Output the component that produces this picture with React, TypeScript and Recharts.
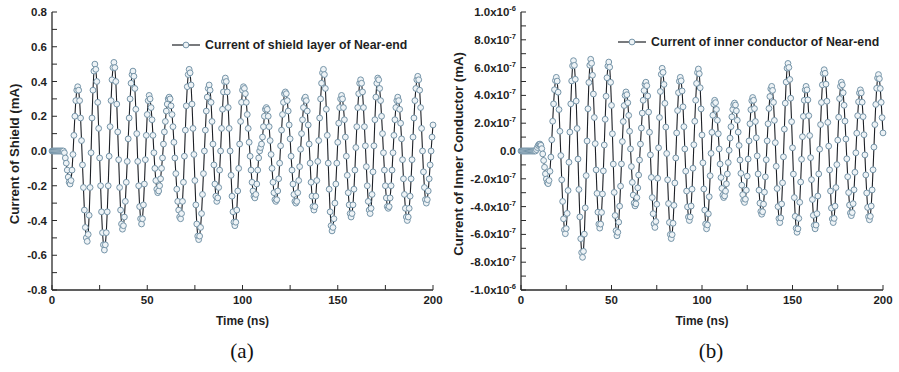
import { LineChart, Line, XAxis, YAxis, Legend } from 'recharts'

// samples are 0.5 ns apart, t = index * STEP_NS
const STEP_NS = 0.5

const X_TICKS = [0, 25, 50, 75, 100, 125, 150, 175, 200]
const SHIELD_TICKS = [-0.8, -0.7, -0.6, -0.5, -0.4, -0.3, -0.2, -0.1, 0, 0.1, 0.2, 0.3, 0.4, 0.5, 0.6, 0.7, 0.8]
// inner conductor axis in units of 1e-7 mA
const INNER_TICKS = [-10, -9, -8, -7, -6, -5, -4, -3, -2, -1, 0, 1, 2, 3, 4, 5, 6, 7, 8, 9, 10]

// (a) current of shield layer, mA
const SHIELD_MA = [
  0, 0, 0, 0, 0, 0, 0, 0, 0, 0, // 0
  0, 0, 0, -0.01, -0.04, -0.07, -0.11, -0.15, -0.18, -0.19, // 5
  -0.17, -0.11, -0.02, 0.09, 0.2, 0.29, 0.35, 0.37, 0.35, 0.29, // 10
  0.19, 0.06, -0.08, -0.21, -0.34, -0.44, -0.5, -0.52, -0.48, -0.37, // 15
  -0.21, -0.01, 0.19, 0.35, 0.46, 0.5, 0.47, 0.4, 0.28, 0.13, // 20
  -0.04, -0.2, -0.35, -0.47, -0.54, -0.57, -0.54, -0.47, -0.35, -0.2, // 25
  -0.03, 0.14, 0.29, 0.41, 0.48, 0.51, 0.48, 0.4, 0.27, 0.11, // 30
  -0.05, -0.21, -0.34, -0.42, -0.45, -0.43, -0.38, -0.29, -0.18, -0.06, // 35
  0.07, 0.19, 0.3, 0.39, 0.44, 0.46, 0.43, 0.36, 0.24, 0.1, // 40
  -0.06, -0.2, -0.32, -0.39, -0.42, -0.39, -0.31, -0.19, -0.05, 0.09, // 45
  0.21, 0.29, 0.32, 0.3, 0.25, 0.18, 0.09, -0.01, -0.1, -0.17, // 50
  -0.22, -0.24, -0.23, -0.2, -0.16, -0.1, -0.04, 0.04, 0.11, 0.17, // 55
  0.23, 0.27, 0.3, 0.31, 0.3, 0.26, 0.21, 0.14, 0.05, -0.04, // 60
  -0.13, -0.22, -0.29, -0.34, -0.38, -0.39, -0.36, -0.29, -0.18, -0.03, // 65
  0.12, 0.26, 0.37, 0.44, 0.47, 0.45, 0.38, 0.27, 0.13, -0.02, // 70
  -0.17, -0.31, -0.42, -0.49, -0.51, -0.49, -0.44, -0.36, -0.25, -0.13, // 75
  0, 0.12, 0.23, 0.31, 0.36, 0.38, 0.35, 0.28, 0.17, 0.04, // 80
  -0.08, -0.19, -0.26, -0.29, -0.27, -0.21, -0.11, 0, 0.13, 0.24, // 85
  0.34, 0.4, 0.42, 0.4, 0.34, 0.25, 0.13, 0, -0.14, -0.26, // 90
  -0.35, -0.41, -0.43, -0.41, -0.34, -0.23, -0.1, 0.04, 0.17, 0.28, // 95
  0.35, 0.37, 0.36, 0.33, 0.28, 0.21, 0.13, 0.05, -0.03, -0.11, // 100
  -0.18, -0.23, -0.26, -0.27, -0.25, -0.19, -0.11, -0.04, 0, 0.02, // 105
  0.04, 0.08, 0.14, 0.2, 0.24, 0.25, 0.24, 0.2, 0.14, 0.06, // 110
  -0.02, -0.1, -0.18, -0.24, -0.28, -0.29, -0.28, -0.23, -0.16, -0.07, // 115
  0.03, 0.12, 0.21, 0.28, 0.33, 0.34, 0.33, 0.29, 0.23, 0.15, // 120
  0.07, -0.03, -0.11, -0.19, -0.25, -0.29, -0.3, -0.29, -0.24, -0.17, // 125
  -0.09, 0.01, 0.1, 0.18, 0.25, 0.3, 0.31, 0.29, 0.23, 0.15, // 130
  0.04, -0.07, -0.18, -0.26, -0.32, -0.34, -0.32, -0.26, -0.17, -0.06, // 135
  0.06, 0.19, 0.3, 0.39, 0.45, 0.47, 0.44, 0.36, 0.24, 0.09, // 140
  -0.07, -0.22, -0.35, -0.43, -0.46, -0.44, -0.39, -0.3, -0.19, -0.07, // 145
  0.05, 0.16, 0.25, 0.3, 0.32, 0.3, 0.25, 0.18, 0.08, -0.03, // 150
  -0.14, -0.24, -0.31, -0.36, -0.38, -0.36, -0.31, -0.22, -0.11, 0.02, // 155
  0.14, 0.25, 0.33, 0.39, 0.41, 0.39, 0.34, 0.25, 0.14, 0.03, // 160
  -0.09, -0.2, -0.29, -0.34, -0.36, -0.33, -0.25, -0.12, 0.03, 0.18, // 165
  0.31, 0.39, 0.42, 0.41, 0.36, 0.29, 0.2, 0.1, -0.01, -0.11, // 170
  -0.2, -0.27, -0.32, -0.33, -0.32, -0.27, -0.2, -0.11, -0.01, 0.09, // 175
  0.18, 0.25, 0.29, 0.31, 0.29, 0.24, 0.16, 0.07, -0.05, -0.16, // 180
  -0.25, -0.33, -0.38, -0.4, -0.38, -0.33, -0.26, -0.16, -0.05, 0.08, // 185
  0.19, 0.29, 0.36, 0.41, 0.43, 0.41, 0.35, 0.25, 0.13, 0, // 190
  -0.12, -0.21, -0.28, -0.3, -0.28, -0.23, -0.16, -0.08, 0, 0.08, // 195
  0.15, // 200
]

// (b) current of inner conductor, units of 1e-7 mA
const INNER_E7 = [
  0, 0, 0, 0, 0, 0, 0, 0, 0, 0, // 0
  0, 0, 0, 0, 0, 0, 0, 0.1, 0.25, 0.4, // 5
  0.48, 0.5, 0.41, 0.17, -0.21, -0.68, -1.17, -1.64, -2.02, -2.27, // 10
  -2.35, -2.12, -1.46, -0.44, 0.81, 2.14, 3.39, 4.41, 5.07, 5.3, // 15
  5.03, 4.23, 2.98, 1.42, -0.33, -2.07, -3.63, -4.88, -5.68, -5.95, // 20
  -5.58, -4.49, -2.84, -0.81, 1.36, 3.39, 5.04, 6.13, 6.5, 6.16, // 25
  5.16, 3.59, 1.62, -0.58, -2.77, -4.74, -6.31, -7.31, -7.65, -7.22, // 30
  -5.98, -4.09, -1.77, 0.72, 3.04, 4.93, 6.17, 6.6, 6.31, 5.45, // 35
  4.1, 2.41, 0.53, -1.36, -3.05, -4.4, -5.26, -5.55, -5.26, -4.42, // 40
  -3.09, -1.43, 0.43, 2.28, 3.94, 5.27, 6.11, 6.4, 6.03, 4.94, // 45
  3.28, 1.24, -0.94, -2.98, -4.64, -5.73, -6.1, -5.85, -5.12, -3.97, // 50
  -2.53, -0.93, 0.68, 2.12, 3.27, 4.0, 4.25, 4.05, 3.47, 2.56, // 55
  1.42, 0.15, -1.12, -2.26, -3.17, -3.75, -3.95, -3.8, -3.35, -2.65, // 60
  -1.73, -0.65, 0.5, 1.65, 2.73, 3.65, 4.35, 4.8, 4.95, 4.7, // 65
  3.96, 2.8, 1.35, -0.28, -1.9, -3.35, -4.51, -5.25, -5.5, -5.07, // 70
  -3.83, -1.96, 0.23, 2.41, 4.28, 5.52, 5.95, 5.66, 4.79, 3.43, // 75
  1.72, -0.18, -2.07, -3.78, -5.14, -6.01, -6.3, -6.02, -5.2, -3.91, // 80
  -2.3, -0.5, 1.3, 2.91, 4.2, 5.02, 5.3, 5.05, 4.32, 3.18, // 85
  1.75, 0.15, -1.45, -2.88, -4.02, -4.75, -5.0, -4.74, -3.96, -2.75, // 90
  -1.24, 0.45, 2.14, 3.65, 4.86, 5.64, 5.9, 5.56, 4.55, 3.03, // 95
  1.15, -0.85, -2.73, -4.25, -5.25, -5.6, -5.32, -4.52, -3.29, -1.78, // 100
  -0.17, 1.34, 2.57, 3.37, 3.65, 3.48, 2.99, 2.21, 1.24, 0.15, // 105
  -0.94, -1.91, -2.69, -3.18, -3.35, -3.23, -2.89, -2.36, -1.65, -0.83, // 110
  0.05, 0.93, 1.75, 2.46, 2.99, 3.33, 3.45, 3.31, 2.89, 2.21, // 115
  1.36, 0.4, -0.65, -1.61, -2.46, -3.14, -3.56, -3.7, -3.47, -2.82, // 120
  -1.81, -0.58, 0.73, 1.96, 2.97, 3.62, 3.85, 3.65, 3.05, 2.12, // 125
  0.95, -0.35, -1.65, -2.82, -3.75, -4.35, -4.55, -4.37, -3.82, -2.96, // 130
  -1.86, -0.63, 0.73, 1.96, 3.06, 3.92, 4.47, 4.65, 4.36, 3.5, // 135
  2.2, 0.6, -1.1, -2.7, -4.0, -4.86, -5.15, -4.81, -3.81, -2.29, // 140
  -0.42, 1.57, 3.44, 4.96, 5.96, 6.3, 6.01, 5.15, 3.8, 2.11, // 145
  0.23, -1.66, -3.35, -4.7, -5.56, -5.85, -5.6, -4.85, -3.69, -2.23, // 150
  -0.6, 1.03, 2.49, 3.65, 4.4, 4.65, 4.4, 3.68, 2.54, 1.11, // 155
  -0.48, -2.06, -3.49, -4.63, -5.35, -5.6, -5.33, -4.51, -3.24, -1.65, // 160
  0.13, 1.9, 3.49, 4.76, 5.58, 5.85, 5.59, 4.81, 3.58, 2.06, // 165
  0.35, -1.36, -2.88, -4.11, -4.89, -5.15, -4.85, -3.97, -2.63, -0.98, // 170
  0.78, 2.43, 3.77, 4.65, 4.95, 4.76, 4.19, 3.29, 2.15, 0.86, // 175
  -0.56, -1.85, -2.99, -3.89, -4.46, -4.65, -4.43, -3.79, -2.79, -1.53, // 180
  -0.13, 1.28, 2.54, 3.54, 4.18, 4.4, 4.18, 3.51, 2.47, 1.17, // 185
  -0.28, -1.72, -3.02, -4.06, -4.73, -4.95, -4.7, -3.96, -2.8, -1.35, // 190
  0.28, 1.9, 3.35, 4.51, 5.25, 5.5, 5.2, 4.5, 3.5, 2.4, // 195
  1.3, // 200
]

const FONT = '"Liberation Sans", Arial, Helvetica, sans-serif'
const INK = '#1f1f1f'
const AXIS = '#2a2a2a'
const LINE_COLOR = '#1d2026'
const DOT = { r: 2.9, fill: '#eef3f6', stroke: '#7594a8', strokeWidth: 1 }

const toRows = (values: number[]) => values.map((v, i) => ({ t: i * STEP_NS, v }))

const shieldRows = toRows(SHIELD_MA)
const innerRows = toRows(INNER_E7)

const tickStyle = { fill: INK, fontSize: 11.5, fontWeight: 700 }

function LegendRow({ text }: { text: string }) {
  return (
    <div style={{ display: 'flex', alignItems: 'center', whiteSpace: 'nowrap', fontFamily: FONT, fontWeight: 700, fontSize: 12.3, color: INK }}>
      <svg width={28} height={8} style={{ display: 'block' }}>
        <line x1={0} y1={4} x2={28} y2={4} stroke={LINE_COLOR} strokeWidth={1.2} />
        <circle cx={14} cy={4} r={DOT.r} fill={DOT.fill} stroke={DOT.stroke} strokeWidth={1} />
      </svg>
      <span style={{ marginLeft: 5 }}>{text}</span>
    </div>
  )
}

function PowerTick({ x, y, payload }: any) {
  const n = payload.value as number
  if (n % 2 !== 0) return null
  const style = { fill: INK, fontWeight: 700, fontFamily: FONT }
  if (n === 0) {
    return (
      <text x={x} y={y} dy="0.35em" textAnchor="end" fontSize={11.5} {...style}>0.0</text>
    )
  }
  const sign = n < 0 ? '-' : ''
  const big = Math.abs(n) === 10
  const mant = big ? '1.0' : `${Math.abs(n)}.0`
  return (
    <text x={x} y={y} dy="0.35em" textAnchor="end" fontSize={11.5} {...style}>
      <tspan>{`${sign}${mant}x10`}</tspan>
      <tspan dy={-5} fontSize={7.5}>{big ? '-6' : '-7'}</tspan>
    </text>
  )
}

interface PanelProps {
  rows: { t: number; v: number }[]
  axisWidth: number
  width: number
  rightGap: number
  yDomain: [number, number]
  yTicks: number[]
  yTick: any
  yFormatter?: (v: number) => string
  yTitle: string
  titleX: number
  legendText: string
  legendLeft: number
  legendTop: number
}

function Panel(p: PanelProps) {
  const plotBottom = 290
  const titleY = (12 + plotBottom) / 2 + 3
  return (
    <LineChart width={p.width} height={340} data={p.rows} margin={{ top: 12, right: p.rightGap, bottom: 30, left: 0 }}>
      <XAxis
        dataKey="t"
        type="number"
        domain={[0, 200]}
        ticks={X_TICKS}
        interval={0}
        height={20}
        tickSize={-5}
        tickMargin={11}
        tickFormatter={(v: number) => (v % 50 === 0 ? String(v) : '')}
        tick={tickStyle}
        axisLine={{ stroke: AXIS, strokeWidth: 1.3 }}
        tickLine={{ stroke: AXIS, strokeWidth: 1 }}
        label={{ value: 'Time (ns)', position: 'bottom', offset: 6, fill: INK, fontSize: 12, fontWeight: 700 }}
      />
      <XAxis xAxisId="top" orientation="top" type="number" domain={[0, 200]} height={0} tick={false} tickLine={false} axisLine={{ stroke: AXIS, strokeWidth: 1.3 }} />
      <YAxis
        type="number"
        domain={p.yDomain}
        ticks={p.yTicks}
        interval={0}
        allowDataOverflow
        width={p.axisWidth}
        tickSize={-5}
        tickMargin={10}
        tickFormatter={p.yFormatter}
        tick={p.yTick}
        axisLine={{ stroke: AXIS, strokeWidth: 1.3 }}
        tickLine={{ stroke: AXIS, strokeWidth: 1 }}
        label={() => (
          <text
            x={p.titleX}
            y={titleY}
            transform={`rotate(-90 ${p.titleX} ${titleY})`}
            textAnchor="middle"
            dominantBaseline="central"
            fill={INK}
            fontSize={13.2}
            fontWeight={700}
          >
            {p.yTitle}
          </text>
        )}
      />
      <YAxis yAxisId="right" orientation="right" type="number" domain={p.yDomain} width={0} tick={false} tickLine={false} axisLine={{ stroke: AXIS, strokeWidth: 1.3 }} />
      <Legend
        layout="horizontal"
        verticalAlign="middle"
        align="center"
        wrapperStyle={{ top: p.legendTop, left: p.legendLeft, width: 'auto', height: 'auto' }}
        content={() => <LegendRow text={p.legendText} />}
      />
      <Line
        type="linear"
        dataKey="v"
        stroke={LINE_COLOR}
        strokeWidth={1.1}
        dot={DOT}
        activeDot={false}
        isAnimationActive={false}
      />
    </LineChart>
  )
}

export default function App() {
  return (
    <div style={{ position: 'absolute', left: 0, top: 0, width: 899, height: 372, background: '#fff', fontFamily: FONT, overflow: 'hidden' }}>
      <div style={{ position: 'absolute', left: 0, top: 0 }}>
        <Panel
          rows={shieldRows}
          width={450}
          rightGap={17}
          axisWidth={52}
          yDomain={[-0.8, 0.8]}
          yTicks={SHIELD_TICKS}
          yTick={tickStyle}
          yFormatter={(v: number) => (Math.round(v * 10) % 2 === 0 ? v.toFixed(1) : '')}
          yTitle="Current of Shield (mA)"
          titleX={14}
          legendText="Current of shield layer of Near-end"
          legendLeft={172}
          legendTop={38}
        />
      </div>
      <div style={{ position: 'absolute', left: 440, top: 0 }}>
        <Panel
          rows={innerRows}
          width={459}
          rightGap={16}
          axisWidth={81}
          yDomain={[-10, 10]}
          yTicks={INNER_TICKS}
          yTick={<PowerTick />}
          yTitle="Current of Inner Conductor (mA)"
          titleX={18}
          legendText="Current of inner conductor of Near-end"
          legendLeft={178}
          legendTop={35}
        />
      </div>
      <div style={{ position: 'absolute', left: 242, top: 351, transform: 'translate(-50%, -50%)', fontFamily: '"Liberation Serif", "Times New Roman", serif', fontSize: 21, color: '#111' }}>(a)</div>
      <div style={{ position: 'absolute', left: 711, top: 351, transform: 'translate(-50%, -50%)', fontFamily: '"Liberation Serif", "Times New Roman", serif', fontSize: 21, color: '#111' }}>(b)</div>
    </div>
  )
}
